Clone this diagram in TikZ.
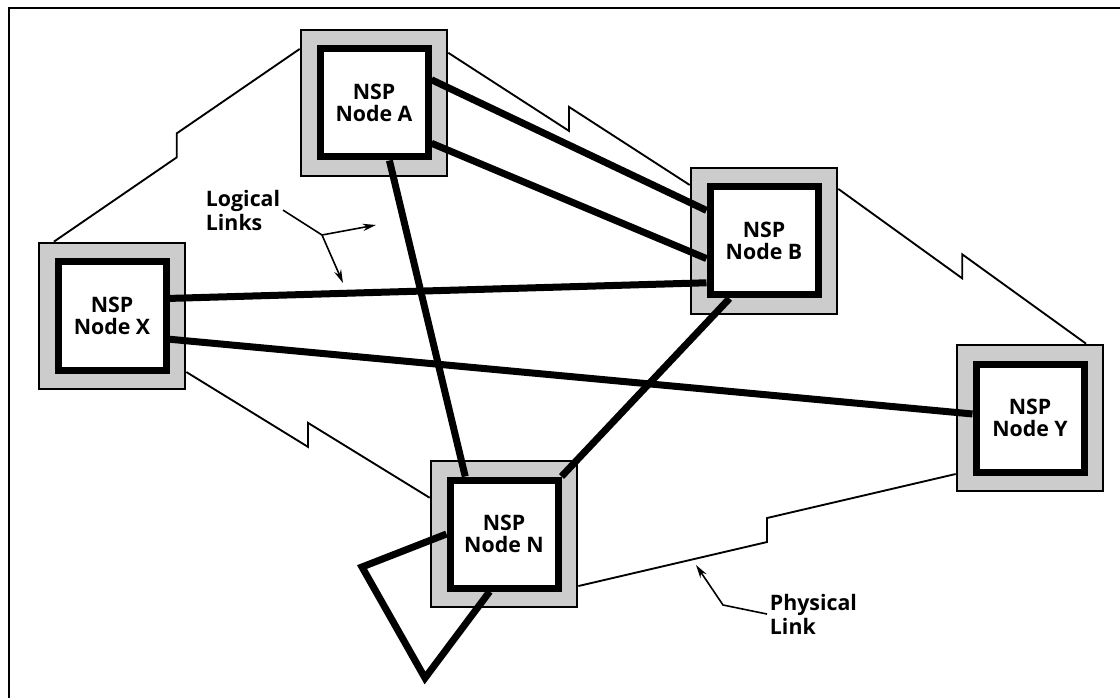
\documentclass[tikz,border=0pt]{standalone}
\usepackage{fontspec}
\setmainfont{Open Sans}
\usetikzlibrary{arrows.meta,calc}

\tikzset{
  shell/.style={draw,line width=1.5pt,fill=black!20,minimum size=110pt,inner sep=0pt},
  nsp/.style={draw,line width=5.25pt,fill=white,minimum size=81pt,inner sep=0pt,
    align=center,font=\bfseries\fontsize{16}{17}\selectfont},
  logical/.style={line width=5.25pt},
  physical/.style={line width=1.4pt,
    to path={-- ($(\tikztostart)!0.5!(\tikztotarget)+(0,12)$) -- ++(0,-24) -- (\tikztotarget)}},
  lbl/.style={align=left,inner sep=2pt,font=\bfseries\fontsize{16}{18}\selectfont}
}

\begin{document}
\begin{tikzpicture}[x=0.75pt,y=-0.75pt,>={Stealth[length=10pt,width=5.5pt]}]
\useasboundingbox (0,0) rectangle (1120,698);
% frame
\draw [line width=1.1pt] (9,698) -- (9,8) -- (1120,8);

% nodes
\node[shell] (Ao) at (374,103) {};
\node[shell] (Xo) at (112,316) {};
\node[shell] (Bo) at (764,241) {};
\node[shell] (Yo) at (1030,418) {};
\node[shell] (No) at (504,534) {};
\node[nsp] (A) at (Ao) {NSP\\Node A};
\node[nsp] (X) at (Xo) {NSP\\Node X};
\node[nsp] (B) at (Bo) {NSP\\Node B};
\node[nsp] (Y) at (Yo) {NSP\\Node Y};
\node[nsp] (N) at (No) {NSP\\Node N};

% physical links
\draw [physical] (Xo.128) to (Ao.144);
\draw [physical] (Ao.34) to (Bo.143);
\draw [physical] (Bo.35) to (Yo.53);
\draw [physical] (Xo.-37) to (No.154);
\draw [physical] (No.-35) to (Yo.217);

% logical links
\draw [logical] (A.22) -- (B.152);
\draw [logical] (A.-35) -- (B.197);
\draw [logical] (X.17) -- (B.216);
\draw [logical] (X.-22) -- (Y.176);
\draw [logical] (A.-75) -- (N.124);
\draw [logical] (B.239) -- (N.north east);
\coordinate (loopa) at (362,567);
\coordinate (loopb) at (425,678);
\draw [logical] (N.180) -- (loopa) -- (loopb) -- (N.-104);

% labels
\node[lbl,anchor=north west] (logl) at (203,187) {Logical\\Links};
\coordinate (jn) at (322,235);
\coordinate (logta) at (376,225);
\coordinate (logtb) at (343,283);
\draw [line width=1.2pt] (logl.east) -- (jn);
\draw [line width=1.2pt,->] (jn) -- (logta);
\draw [line width=1.2pt,->] (jn) -- (logtb);

\node[lbl,anchor=north west] (phyl) at (767,591) {Physical\\Link};
\coordinate (phyb) at (723,605);
\coordinate (phyt) at (696,565);
\draw [line width=1.2pt,->] (phyl.west) -- (phyb) -- (phyt);
\end{tikzpicture}
\end{document}
